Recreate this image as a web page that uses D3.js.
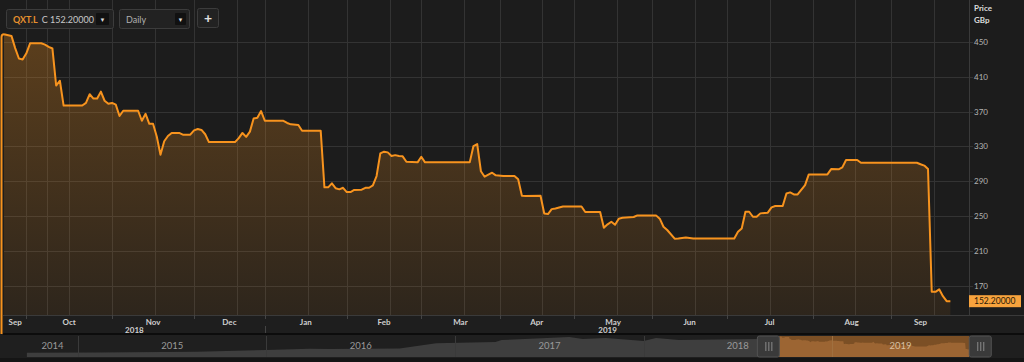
<!DOCTYPE html>
<html lang="en">
<head>
    <meta charset="UTF-8">
    <title>QXT.L Daily</title>
    <style type="text/css">
        body
        {
            margin: 0;
            background: #1c1c1c;
        }
        svg
        {
            display: block;
            font-family: Lato, "Open Sans", sans-serif;
        }
    </style>
</head>
<body>
<div id="chart"></div>

<script src="https://cdnjs.cloudflare.com/ajax/libs/d3/7.8.5/d3.min.js" type="text/javascript"></script>
<script type="text/javascript">

    // LSE closed days in the window (the x axis counts trading days only)
    const holidays = ["2018-12-25", "2018-12-26", "2019-01-01", "2019-04-19",
                      "2019-04-22", "2019-05-06", "2019-05-27", "2019-08-26"];

    const priceDates = [
        "2018-09-21", "2018-09-25", "2018-09-26", "2018-09-27", "2018-09-28", "2018-10-01", "2018-10-02", "2018-10-05",
        "2018-10-08", "2018-10-09", "2018-10-10", "2018-10-11", "2018-10-12", "2018-10-15", "2018-10-22", "2018-10-23",
        "2018-10-24", "2018-10-25", "2018-10-26", "2018-10-29", "2018-10-30", "2018-10-31", "2018-11-01", "2018-11-02",
        "2018-11-05", "2018-11-06", "2018-11-12", "2018-11-13", "2018-11-14", "2018-11-15", "2018-11-16", "2018-11-19",
        "2018-11-20", "2018-11-21", "2018-11-22", "2018-11-23", "2018-11-27", "2018-11-28", "2018-11-30", "2018-12-03",
        "2018-12-04", "2018-12-05", "2018-12-06", "2018-12-07", "2018-12-18", "2018-12-19", "2018-12-20", "2018-12-21",
        "2018-12-24", "2018-12-27", "2018-12-28", "2018-12-31", "2019-01-02", "2019-01-09", "2019-01-10", "2019-01-11",
        "2019-01-15", "2019-01-16", "2019-01-23", "2019-01-24", "2019-01-25", "2019-01-28", "2019-01-29", "2019-01-30",
        "2019-01-31", "2019-02-01", "2019-02-04", "2019-02-05", "2019-02-07", "2019-02-08", "2019-02-11", "2019-02-12",
        "2019-02-13", "2019-02-14", "2019-02-15", "2019-02-18", "2019-02-19", "2019-02-20", "2019-02-21", "2019-02-22",
        "2019-02-25", "2019-02-28", "2019-03-01", "2019-03-04", "2019-03-20", "2019-03-21", "2019-03-22", "2019-03-25",
        "2019-03-26", "2019-03-28", "2019-03-29", "2019-04-02", "2019-04-05", "2019-04-08", "2019-04-09", "2019-04-10",
        "2019-04-16", "2019-04-17", "2019-04-18", "2019-04-23", "2019-04-24", "2019-04-26", "2019-05-03", "2019-05-07",
        "2019-05-13", "2019-05-14", "2019-05-15", "2019-05-16", "2019-05-17", "2019-05-20", "2019-05-21", "2019-05-24",
        "2019-05-28", "2019-06-04", "2019-06-05", "2019-06-06", "2019-06-07", "2019-06-11", "2019-06-12", "2019-06-14",
        "2019-06-18", "2019-07-03", "2019-07-04", "2019-07-05", "2019-07-08", "2019-07-09", "2019-07-10", "2019-07-11",
        "2019-07-12", "2019-07-16", "2019-07-17", "2019-07-18", "2019-07-22", "2019-07-23", "2019-07-24", "2019-07-25",
        "2019-07-26", "2019-07-30", "2019-07-31", "2019-08-07", "2019-08-08", "2019-08-12", "2019-08-13", "2019-08-14",
        "2019-08-19", "2019-08-20", "2019-09-11", "2019-09-12", "2019-09-13", "2019-09-16", "2019-09-17", "2019-09-18",
        "2019-09-19", "2019-09-20", "2019-09-23", "2019-09-24"
    ];
    const priceValues = [
        459, 457, 443, 431, 430, 437, 448.5, 448.5,
        447, 444.5, 442.5, 400, 405.5, 377, 377, 380,
        390, 385, 385, 393, 382.5, 379, 380, 378,
        365, 371, 371, 359.5, 367.5, 356, 356, 341.5,
        320.5, 336, 342, 345.5, 345.5, 343.5, 343.5, 348.5,
        350, 349, 344, 335, 335, 339.5, 345.5, 341,
        347, 362, 363, 370.7, 359.5, 359.5, 357, 355.4,
        354.6, 348, 348, 283, 283, 287.6, 282, 280.7,
        282.5, 277.6, 277.6, 280, 280.3, 282.5, 282.5, 285.3,
        296, 322, 324, 323.2, 319, 320, 319, 318.6,
        312.4, 311.7, 318.2, 311.7, 311.7, 330.5, 332.8, 301.5,
        295.2, 299.8, 296.8, 296, 296, 292.2, 273.3, 273,
        273.3, 253, 252.3, 258, 258.8, 261, 261, 254.6,
        254.6, 236.6, 240.5, 243.5, 240, 247, 248, 248.9,
        250.8, 250.8, 247, 237.7, 234, 224, 224.3, 225.5,
        224.3, 224.3, 232, 235.8, 255, 255, 249.2, 249.2,
        253.1, 253.9, 260, 261.5, 261.5, 276, 277.2, 274.9,
        274.9, 285.6, 297.9, 297.9, 304, 303.7, 306, 314.4,
        314.4, 311.3, 311.3, 309.5, 308, 304, 163, 163,
        165.8, 158, 152.2, 152.2
    ];

    const priceTicks = [170, 210, 250, 290, 330, 370, 410, 450];
    const lastPrice = "152.20000";

    // five year history shown in the navigator strip before the selected year
    const navDates  = ["2014-09-24", "2015-02-10", "2015-08-20", "2016-01-01", "2016-03-25", "2016-05-01",
                       "2016-09-15", "2016-11-25", "2017-03-20", "2017-04-01", "2017-08-10", "2017-09-05",
                       "2017-10-20", "2018-01-01", "2018-01-25", "2018-03-10", "2018-05-25", "2018-08-15",
                       "2018-09-20"];
    const navValues = [75, 82, 100, 140, 170, 165,
                       175, 300, 330, 375, 445, 400,
                       423, 352, 423, 376, 390, 400,
                       455];

    const width = 1024, height = 362;
    const plotLeft = 4, plotRight = 969, plotBottom = 315;
    const orange = "#f7931e";

    const parse = d3.timeParse("%Y-%m-%d");
    const fmt = d3.timeFormat("%Y-%m-%d");

    // trading calendar -> index, the chart is spaced by sessions
    const closed = new Set(holidays);
    const days = d3.timeDay.range(parse("2018-09-21"), parse("2019-10-01"))
        .filter(d => d.getDay() % 6 !== 0 && !closed.has(fmt(d)));
    const dayIndex = new Map(days.map((d, i) => [fmt(d), i]));

    const prices = priceDates.map((d, i) => ({date: parse(d), i: dayIndex.get(d), v: priceValues[i]}));
    const lastIdx = prices[prices.length - 1].i;

    const x = d3.scaleLinear().domain([0, 259]).range([plotLeft, plotRight]);
    const y = d3.scaleLinear().domain([170, 450]).range([285.7, 42]);

    const svg = d3.select("#chart")
        .append("svg")
            .attr("width", width)
            .attr("height", height);

    svg.append("rect").attr("width", width).attr("height", height).attr("fill", "#1c1c1c");

    const defs = svg.append("defs");
    const grad = defs.append("linearGradient")
        .attr("id", "areaFill")
        .attr("gradientUnits", "userSpaceOnUse")
        .attr("x1", 0).attr("x2", 0).attr("y1", 34).attr("y2", plotBottom);
    grad.append("stop").attr("offset", 0).attr("stop-color", orange).attr("stop-opacity", 0.29);
    grad.append("stop").attr("offset", 1).attr("stop-color", orange).attr("stop-opacity", 0.08);

    // month starts (first session of each month)
    const monthStarts = [];
    days.forEach((d, i) => {
        if (i === 0 || d.getMonth() !== days[i - 1].getMonth()) monthStarts.push(i);
    });

    // grid
    const grid = svg.append("g").attr("stroke", "#333").attr("stroke-width", 1);
    grid.selectAll(".hgrid")
        .data(priceTicks)
        .enter()
        .append("line")
        .attr("x1", plotLeft).attr("x2", plotRight + 4)
        .attr("y1", d => Math.round(y(d)) + 0.5).attr("y2", d => Math.round(y(d)) + 0.5);
    const vgrid = [];
    monthStarts.forEach((s, k) => {
        if (k > 0) vgrid.push(s);
        vgrid.push(s + 11.5);
    });
    grid.selectAll(".vgrid")
        .data(vgrid.filter(v => x(v) < plotRight))
        .enter()
        .append("line")
        .attr("x1", d => Math.round(x(d)) + 0.5).attr("x2", d => Math.round(x(d)) + 0.5)
        .attr("y1", 0).attr("y2", plotBottom);

    svg.append("line")
        .attr("x1", plotRight + 0.5).attr("x2", plotRight + 0.5)
        .attr("y1", 0).attr("y2", plotBottom)
        .attr("stroke", "#3a3a3a");

    // price area + line
    svg.append("path")
        .datum(prices)
        .attr("fill", "url(#areaFill)")
        .attr("d", d3.area().x(d => x(d.i)).y0(plotBottom).y1(d => y(d.v)));

    svg.append("path")
        .attr("fill", "none")
        .attr("stroke", orange)
        .attr("stroke-width", 2)
        .attr("stroke-linejoin", "round")
        .attr("d", `M1.5,334 L1.5,${y(prices[0].v) + 3} Q1.5,${y(prices[0].v)} ${x(0)},${y(prices[0].v)}`);

    svg.append("path")
        .datum(prices)
        .attr("fill", "none")
        .attr("stroke", orange)
        .attr("stroke-width", 2)
        .attr("stroke-linejoin", "round")
        .attr("d", d3.line().x(d => x(d.i)).y(d => y(d.v)));

    // right price axis
    const yAxis = svg.append("g").attr("font-size", 8);
    yAxis.selectAll(".tick")
        .data(priceTicks)
        .enter()
        .append("text")
        .attr("x", 974)
        .attr("y", d => y(d) + 3)
        .attr("fill", "#b4b4b4")
        .text(d => d);
    yAxis.append("text").attr("x", 974).attr("y", 11).attr("fill", "#ddd").attr("font-weight", "bold").text("Price");
    yAxis.append("text").attr("x", 974).attr("y", 23).attr("fill", "#ddd").attr("font-weight", "bold").text("GBp");

    svg.append("rect")
        .attr("x", plotRight).attr("y", y(152.2) - 6)
        .attr("width", 52).attr("height", 12)
        .attr("fill", "#f8a33d");
    svg.append("text")
        .attr("x", 974).attr("y", y(152.2) + 3)
        .attr("font-size", 8.5)
        .attr("fill", "#2a1a08")
        .text(lastPrice);

    // time axis band
    svg.append("rect").attr("x", 3).attr("y", plotBottom).attr("width", width - 3).attr("height", 19).attr("fill", "#1e1e1e");
    svg.append("line").attr("x1", 3).attr("x2", width).attr("y1", plotBottom + 0.5).attr("y2", plotBottom + 0.5).attr("stroke", "#3a3a3a");
    svg.append("rect").attr("x", 3).attr("y", 333).attr("width", width - 3).attr("height", 2).attr("fill", "#0c0c0c");

    const months = monthStarts.filter(s => s <= lastIdx).map((s, k, arr) => {
        const a = Math.max(x(s), x(0));
        const b = k < arr.length - 1 ? x(arr[k + 1]) : x(lastIdx);
        return {s: s, mid: (a + b) / 2, date: days[s]};
    });

    svg.selectAll(".mtick")
        .data(months.slice(1))
        .enter()
        .append("line")
        .attr("x1", d => Math.round(x(d.s)) + 0.5).attr("x2", d => Math.round(x(d.s)) + 0.5)
        .attr("y1", plotBottom).attr("y2", plotBottom + 4)
        .attr("stroke", "#444");

    svg.selectAll(".mlabel")
        .data(months)
        .enter()
        .append("text")
        .attr("x", d => d.mid)
        .attr("y", 325)
        .attr("text-anchor", "middle")
        .attr("font-size", 8)
        .attr("font-weight", "bold")
        .attr("fill", "#cfcfcf")
        .text(d => d3.timeFormat("%b")(d.date));

    const janIdx = months.find(m => m.date.getMonth() === 0).s;
    svg.append("line")
        .attr("x1", Math.round(x(janIdx)) + 0.5).attr("x2", Math.round(x(janIdx)) + 0.5)
        .attr("y1", 326).attr("y2", 333)
        .attr("stroke", "#444");
    const years = [
        {label: "2018", mid: (x(0) + x(janIdx)) / 2},
        {label: "2019", mid: (x(janIdx) + x(lastIdx)) / 2}
    ];
    svg.selectAll(".ylabel")
        .data(years)
        .enter()
        .append("text")
        .attr("x", d => d.mid)
        .attr("y", 333)
        .attr("text-anchor", "middle")
        .attr("font-size", 8)
        .attr("font-weight", "bold")
        .attr("fill", "#cfcfcf")
        .text(d => d.label);

    // navigator
    const navTop = 335, navBase = 357;
    svg.append("rect").attr("x", 0).attr("y", navTop).attr("width", width).attr("height", height - navTop).attr("fill", "#1f1f1f");
    svg.append("rect").attr("x", 0).attr("y", navBase + 1).attr("width", width).attr("height", height - navBase).attr("fill", "#151515");

    const nx = d3.scaleTime().domain([new Date(2015, 0, 1), new Date(2019, 0, 1)]).range([78, 832]);
    const ny = d3.scaleLinear().domain([0, 470]).range([navBase - 1, 336]);
    const navSeries = navDates.map((d, i) => ({date: parse(d), v: navValues[i]}))
        .concat(prices.map(p => ({date: p.date, v: p.v})));
    const navArea = d3.area().x(d => nx(d.date)).y0(navBase).y1(d => ny(d.v));

    svg.append("path").datum(navSeries).attr("fill", "#3e3e3e").attr("d", navArea);

    const selA = nx(prices[0].date), selB = nx(prices[prices.length - 1].date);
    defs.append("clipPath").attr("id", "selClip")
        .append("rect").attr("x", selA).attr("y", navTop).attr("width", selB - selA).attr("height", navBase - navTop);
    svg.append("rect")
        .attr("x", selA).attr("y", 336).attr("width", selB - selA).attr("height", navBase - 336)
        .attr("fill", "#7b4f25");
    svg.append("path").datum(navSeries).attr("fill", "#9c6533").attr("clip-path", "url(#selClip)").attr("d", navArea);

    const yearStarts = [2015, 2016, 2017, 2018, 2019].map(yr => nx(new Date(yr, 0, 1)));
    svg.selectAll(".nsep")
        .data(yearStarts)
        .enter()
        .append("line")
        .attr("x1", d => Math.round(d) + 0.5).attr("x2", d => Math.round(d) + 0.5)
        .attr("y1", navTop + 1).attr("y2", navBase)
        .attr("stroke", d => d > selA ? "#a0703f" : "#3a3a3a");

    const navEdges = [nx(navSeries[0].date)].concat(yearStarts, [plotRight]);
    svg.selectAll(".nlabel")
        .data(d3.range(2014, 2020))
        .enter()
        .append("text")
        .attr("x", (d, i) => (navEdges[i] + navEdges[i + 1]) / 2)
        .attr("y", 349)
        .attr("text-anchor", "middle")
        .attr("font-size", 9.5)
        .attr("fill", d => d === 2019 ? "#d8c0a0" : "#9a9a9a")
        .text(d => d);

    // selection handles
    const handles = svg.selectAll(".handle")
        .data([selA - 22, selB])
        .enter()
        .append("g")
        .attr("transform", d => `translate(${d},336)`);
    handles.append("rect")
        .attr("width", 22).attr("height", 21).attr("rx", 2)
        .attr("fill", "#3a3a3a").attr("stroke", "#525252");
    handles.selectAll("line")
        .data([8, 11, 14])
        .enter()
        .append("line")
        .attr("x1", d => d + 0.5).attr("x2", d => d + 0.5)
        .attr("y1", 6).attr("y2", 15)
        .attr("stroke", "#8a8a8a");

    // toolbar
    const bar = svg.append("g").attr("font-size", 9);
    bar.append("rect").attr("x", 6.5).attr("y", 9.5).attr("width", 107).attr("height", 19).attr("rx", 2)
        .attr("fill", "#222").attr("stroke", "#3c3c3c");
    const sym = bar.append("text").attr("x", 13).attr("y", 22.5);
    sym.append("tspan").attr("fill", "#e8912e").attr("font-weight", "bold").text("QXT.L");
    sym.append("tspan").attr("dx", 4).attr("fill", "#c8c8c8").text("C 152.20000");
    bar.append("rect").attr("x", 96).attr("y", 13).attr("width", 13).attr("height", 12).attr("rx", 1).attr("fill", "#111");
    bar.append("text").attr("x", 102.5).attr("y", 22).attr("text-anchor", "middle").attr("font-size", 6).attr("fill", "#ddd").text("▼");

    bar.append("rect").attr("x", 119.5).attr("y", 9.5).attr("width", 70).attr("height", 19).attr("rx", 2)
        .attr("fill", "#222").attr("stroke", "#3c3c3c");
    bar.append("text").attr("x", 126).attr("y", 22.5).attr("fill", "#b0b0b0").text("Daily");
    bar.append("rect").attr("x", 175).attr("y", 13).attr("width", 11).attr("height", 12).attr("rx", 1).attr("fill", "#111");
    bar.append("text").attr("x", 180.5).attr("y", 22).attr("text-anchor", "middle").attr("font-size", 6).attr("fill", "#ddd").text("▼");

    bar.append("rect").attr("x", 197.5).attr("y", 8.5).attr("width", 21).attr("height", 19).attr("rx", 2)
        .attr("fill", "#222").attr("stroke", "#3c3c3c");
    bar.append("text").attr("x", 208).attr("y", 23).attr("text-anchor", "middle").attr("font-size", 14)
        .attr("font-weight", "bold").attr("fill", "#e0e0e0").text("+");

</script>
</body>
</html>
